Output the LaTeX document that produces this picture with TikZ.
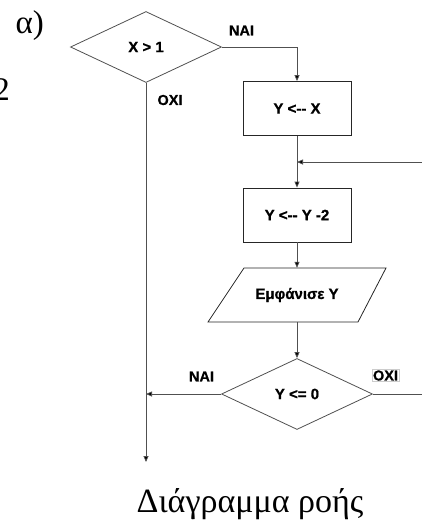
\documentclass[tikz,border=0pt]{standalone}
\usepackage{fontspec}
\setmainfont{Liberation Serif}
\newfontfamily\flowfont{Liberation Sans}[BoldFeatures={FakeBold=0.8}]
\usetikzlibrary{shapes.geometric,arrows.meta}
\definecolor{linegray}{HTML}{505050}

\begin{document}
\begin{tikzpicture}[x=1pt,y=-1pt,
  flowline/.style={draw=linegray, line width=0.8pt},
  arr/.style={flowline, -{Triangle[width=5pt,length=6pt,fill=black]}},
  flowtext/.style={font=\flowfont\bfseries\fontsize{15}{18}\selectfont},
  decision/.style={diamond, draw=linegray, line width=0.8pt, minimum width=151pt,
    minimum height=71pt, inner sep=0pt, flowtext},
  procbox/.style={rectangle, draw=black!85, line width=0.8pt, minimum width=108pt,
    minimum height=54pt, inner sep=0pt, flowtext},
  iotext/.style={rectangle, minimum width=110pt, minimum height=54pt, inner sep=0pt, flowtext},
  shapeline/.style={draw=black!85, line width=0.8pt},
  branch/.style={inner sep=1pt, font=\flowfont\bfseries\fontsize{14.5}{17}\selectfont},
  bigtext/.style={font=\fontsize{33}{40}\selectfont, inner sep=0pt}]

\useasboundingbox (0,0) rectangle (422,523);

% side captions
\node[bigtext, anchor=base east] (tag) at (44,33) {α)};
\node[bigtext, anchor=base east] (num) at (10,100) {2};

% shapes of the flowchart
\node[decision] (d1) at (146,47) {X > 1};
\node[procbox] (b1) at (297,108.5) {Y <-- X};
\node[procbox] (b2) at (297,215) {Y <-- Y -2};
\node[iotext] (p) at (297,295) {Εμφάνισε Υ};
\draw[shapeline] (208,322) -- (244,268) -- (386,268) -- (358,322) -- cycle;
\node[decision] (d2) at (297,394) {Y <= 0};

% free ends
\coordinate (loopin) at (422,162);
\coordinate (exitout) at (422,394);
\coordinate (endpt) at (146,462);

% connectors
\draw[arr] (d1.east) -| (b1.north);
\draw[arr] (b1.south) -- (b2.north);
\draw[arr] (loopin) -- (b1.south |- loopin);
\draw[arr] (b2.south) -- (p.north);
\draw[arr] (p.south) -- (d2.north);
\draw[arr] (d1.south) -- (endpt);
\draw[arr] (d2.west) -- (d1.south |- d2.west);
\draw[flowline] (d2.east) -- (exitout);

% branch labels
\node[branch] (yes1) at (241.5,30.5) {NAI};
\node[branch] (no1) at (170,100) {OXI};
\node[branch] (yes2) at (201.5,376.5) {NAI};
\node[branch, draw=black!20, line width=0.5pt] (no2) at (385.5,375.5) {OXI};

% caption
\node[bigtext, font=\fontsize{34}{40}\selectfont, anchor=base] (cap) at (250,512) {Διάγραμμα ροής};
\end{tikzpicture}
\end{document}
